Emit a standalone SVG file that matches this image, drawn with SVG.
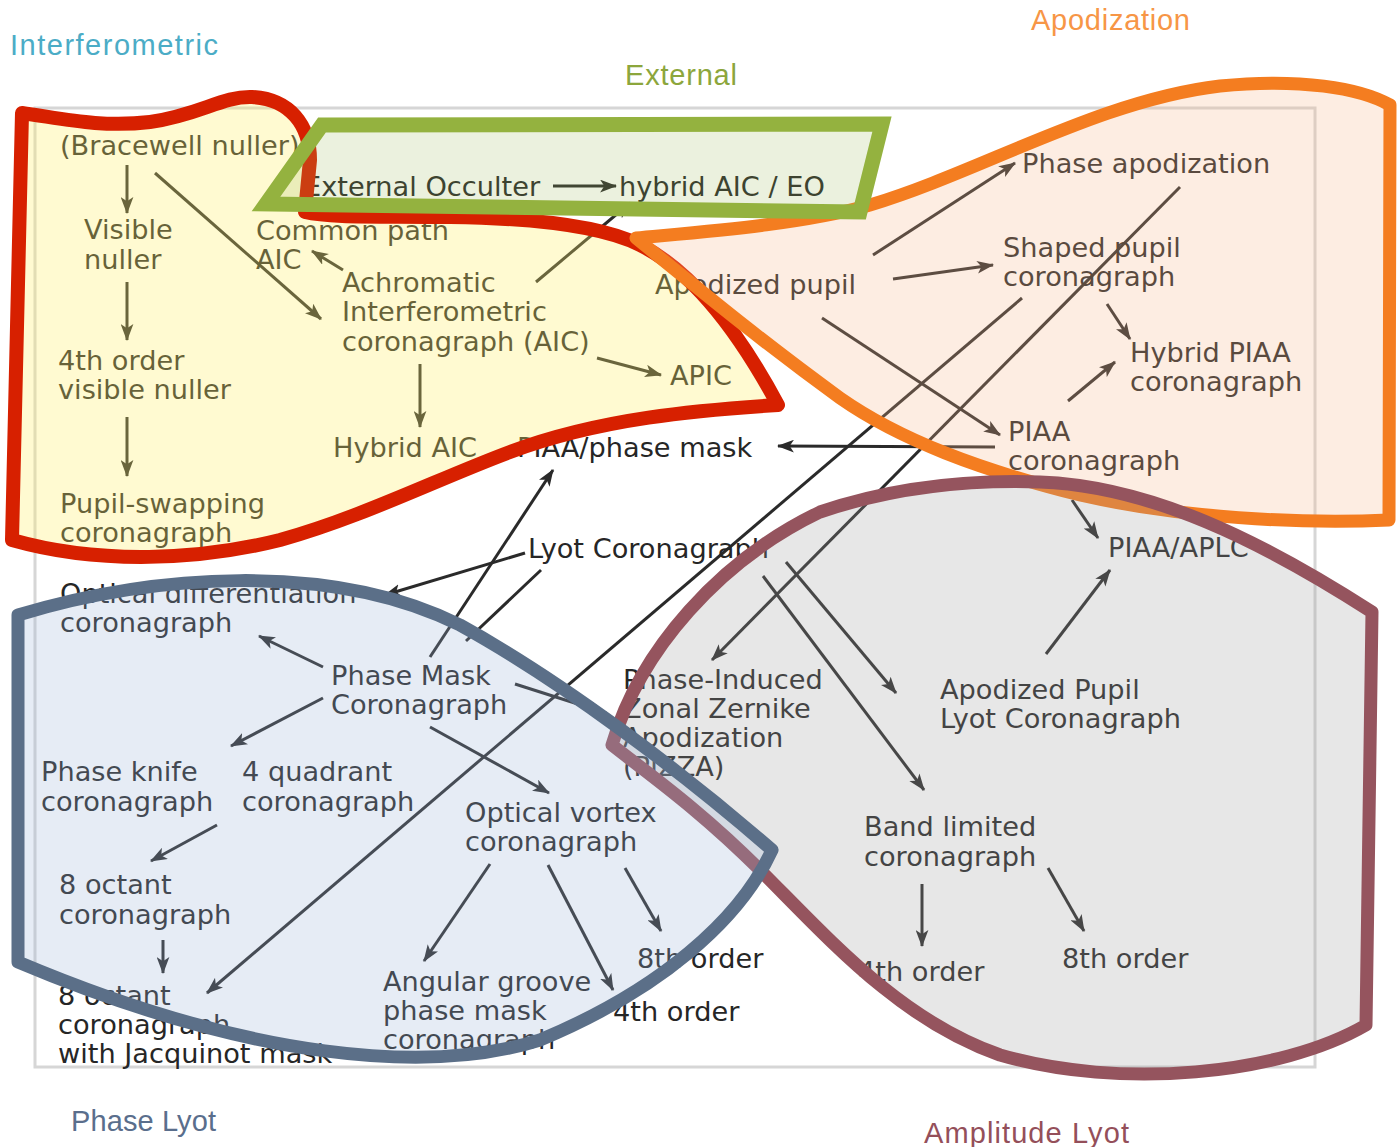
<svg xmlns="http://www.w3.org/2000/svg" width="1400" height="1147" viewBox="0 0 1400 1147">
<defs>
<marker id="ah" viewBox="0 0 16 12" refX="15" refY="6" markerWidth="17" markerHeight="13" markerUnits="userSpaceOnUse" orient="auto">
<path d="M0,0 L16,6 L0,12 L4,6 Z" fill="#2a2a2a"/>
</marker>
<style>
.t{font-family:"DejaVu Sans",Verdana,sans-serif;font-size:27.2px;fill:#262626}
.c{fill:none;stroke:#2a2a2a;stroke-width:3}
.a{marker-end:url(#ah)}
.title{font-family:"Liberation Sans",Arial,sans-serif;font-size:29px}
.region{stroke-linejoin:round}
</style>
</defs>
<rect x="0" y="0" width="1400" height="1147" fill="#ffffff"/>
<g id="frame">
<rect x="35" y="108" width="1280" height="959" fill="#ffffff" stroke="#d6d6d6" stroke-width="3"/>
</g>
<g id="connectors">
<path class="c a" d="M127,165 L127,213"/>
<path class="c a" d="M155,173 L321,319"/>
<path class="c a" d="M127,282 L127,340"/>
<path class="c a" d="M127,417 L127,476"/>
<path class="c a" d="M343,270 L312,251"/>
<path class="c a" d="M420,364 L420,427"/>
<path class="c a" d="M597,358 L661,375"/>
<path class="c a" d="M536,282 L630,203"/>
<path class="c a" d="M553,186 L616,186"/>
<path class="c a" d="M873,255 L1015,163"/>
<path class="c a" d="M893,279 L993,265"/>
<path class="c a" d="M822,318 L1000,435"/>
<path class="c a" d="M1107,304 L1130,339"/>
<path class="c a" d="M1068,401 L1115,362"/>
<path class="c a" d="M995,447 L778,446"/>
<path class="c a" d="M1022,298 L207,993"/>
<path class="c a" d="M1180,187 L712,660"/>
<path class="c a" d="M525,553 L385,595"/>
<path class="c a" d="M430,657 L553,470"/>
<path class="c" d="M541,570 L466,641"/>
<path class="c a" d="M763,576 L924,790"/>
<path class="c a" d="M786,562 L896,693"/>
<path class="c a" d="M1046,654 L1110,570"/>
<path class="c a" d="M1072,500 L1098,538"/>
<path class="c a" d="M323,667 L259,636"/>
<path class="c a" d="M323,698 L231,746"/>
<path class="c a" d="M430,727 L549,793"/>
<path class="c a" d="M515,684 L606,713"/>
<path class="c a" d="M217,825 L151,861"/>
<path class="c a" d="M163,940 L163,973"/>
<path class="c a" d="M490,864 L424,961"/>
<path class="c a" d="M548,865 L613,990"/>
<path class="c a" d="M625,868 L661,931"/>
<path class="c a" d="M922,884 L922,946"/>
<path class="c a" d="M1048,868 L1084,931"/>
</g>
<g id="n-bracewell"><text class="t" x="60" y="155">(Bracewell nuller)</text></g>
<g id="n-visible"><text class="t"><tspan x="84" y="239">Visible</tspan><tspan x="84" y="269">nuller</tspan></text></g>
<g id="n-cpaic"><text class="t"><tspan x="256" y="240">Common path</tspan><tspan x="256" y="269">AIC</tspan></text></g>
<g id="n-aic"><text class="t"><tspan x="342" y="292">Achromatic</tspan><tspan x="342" y="321">Interferometric</tspan><tspan x="342" y="351">coronagraph (AIC)</tspan></text></g>
<g id="n-4vn"><text class="t"><tspan x="58" y="370">4th order</tspan><tspan x="58" y="399">visible nuller</tspan></text></g>
<g id="n-apic"><text class="t" x="670" y="385">APIC</text></g>
<g id="n-haic"><text class="t" x="333" y="457">Hybrid AIC</text></g>
<g id="n-piaapm"><text class="t" x="517" y="457">PIAA/phase mask</text></g>
<g id="n-psc"><text class="t"><tspan x="60" y="513">Pupil-swapping</tspan><tspan x="60" y="542">coronagraph</tspan></text></g>
<g id="n-eo"><text class="t" x="304" y="196">External Occulter</text></g>
<g id="n-haeo"><text class="t" x="619" y="196">hybrid AIC / EO</text></g>
<g id="n-phapo"><text class="t" x="1022" y="173">Phase apodization</text></g>
<g id="n-apupil"><text class="t" x="655" y="294">Apodized pupil</text></g>
<g id="n-spc"><text class="t"><tspan x="1003" y="257">Shaped pupil</tspan><tspan x="1003" y="286">coronagraph</tspan></text></g>
<g id="n-hpiaa"><text class="t"><tspan x="1130" y="362">Hybrid PIAA</tspan><tspan x="1130" y="391">coronagraph</tspan></text></g>
<g id="n-piaa"><text class="t"><tspan x="1008" y="441">PIAA</tspan><tspan x="1008" y="470">coronagraph</tspan></text></g>
<g id="n-piaaaplc"><text class="t" x="1108" y="557">PIAA/APLC</text></g>
<g id="n-lyot"><text class="t" x="528" y="558">Lyot Coronagraph</text></g>
<g id="n-odc"><text class="t"><tspan x="60" y="603">Optical differentiation</tspan><tspan x="60" y="632">coronagraph</tspan></text></g>
<g id="n-pmc"><text class="t"><tspan x="331" y="685">Phase Mask</tspan><tspan x="331" y="714">Coronagraph</tspan></text></g>
<g id="n-pizza"><text class="t"><tspan x="623" y="689">Phase-Induced</tspan><tspan x="623" y="718">Zonal Zernike</tspan><tspan x="623" y="747">Apodization</tspan><tspan x="623" y="776">(PIZZA)</tspan></text></g>
<g id="n-aplc"><text class="t"><tspan x="940" y="699">Apodized Pupil</tspan><tspan x="940" y="728">Lyot Coronagraph</tspan></text></g>
<g id="n-pk"><text class="t"><tspan x="41" y="781">Phase knife</tspan><tspan x="41" y="811">coronagraph</tspan></text></g>
<g id="n-4q"><text class="t"><tspan x="242" y="781">4 quadrant</tspan><tspan x="242" y="811">coronagraph</tspan></text></g>
<g id="n-ovc"><text class="t"><tspan x="465" y="822">Optical vortex</tspan><tspan x="465" y="851">coronagraph</tspan></text></g>
<g id="n-blc"><text class="t"><tspan x="864" y="836">Band limited</tspan><tspan x="864" y="866">coronagraph</tspan></text></g>
<g id="n-8oc"><text class="t"><tspan x="59" y="894">8 octant</tspan><tspan x="59" y="924">coronagraph</tspan></text></g>
<g id="n-ov8"><text class="t" x="637" y="968">8th order</text></g>
<g id="n-bl4"><text class="t" x="858" y="981">4th order</text></g>
<g id="n-bl8"><text class="t" x="1062" y="968">8th order</text></g>
<g id="n-8ocj"><text class="t"><tspan x="58" y="1005">8 octant</tspan><tspan x="58" y="1034">coronagraph</tspan><tspan x="58" y="1063">with Jacquinot mask</tspan></text></g>
<g id="n-agpm"><text class="t"><tspan x="383" y="991">Angular groove</tspan><tspan x="383" y="1020">phase mask</tspan><tspan x="383" y="1049">coronagraph</tspan></text></g>
<g id="n-ov4"><text class="t" x="613" y="1021">4th order</text></g>
<g id="region-interferometric" class="region">
<path d="M22,113 C60,118 100,128 150,122 C200,115 222,96 252,97 C290,99 310,125 310,160 L305,212 C330,218 380,216 450,217 C530,218 600,225 640,245 C690,270 735,325 778,405 C700,410 600,418 510,452 C440,478 360,518 280,540 C200,560 100,565 12,540 Z" fill="#FFF066" fill-opacity="0.3" stroke="#D72000" stroke-width="14"/>
</g>
<g id="region-apodization" class="region">
<path d="M636,238 C700,232 800,225 870,205 C980,172 1100,100 1220,86 C1300,78 1360,88 1390,105 L1389,520 C1300,524 1180,518 1080,495 C980,470 900,440 840,398 C760,340 700,290 636,238 Z" fill="#F9B88A" fill-opacity="0.25" stroke="#F47D20" stroke-width="13"/>
</g>
<g id="region-external" class="region">
<path d="M322,125 L882,124 L860,212 L266,204 Z" fill="#9BBB59" fill-opacity="0.2" stroke="#94B23F" stroke-width="15" stroke-linejoin="miter"/>
</g>
<g id="region-amplitude-lyot" class="region">
<path d="M612,745 C640,650 720,560 820,512 C900,485 980,480 1040,482 C1150,486 1260,540 1372,612 L1366,1025 C1280,1075 1120,1090 1000,1055 C900,1020 830,940 760,870 C700,810 650,775 612,745 Z" fill="#A0A0A0" fill-opacity="0.25" stroke="#95545E" stroke-width="13"/>
</g>
<g id="region-phase-lyot" class="region">
<path d="M18,615 C150,575 330,560 460,625 C560,680 680,770 772,850 C740,920 660,990 540,1040 C430,1075 250,1060 18,962 Z" fill="#9DB5D8" fill-opacity="0.25" stroke="#5B6F88" stroke-width="13"/>
</g>
<g id="titles">
<text class="title" x="10" y="55" textLength="208" fill="#4BACC6">Interferometric</text>
<text class="title" x="625" y="85" textLength="112" fill="#8CA63C">External</text>
<text class="title" x="1031" y="30" textLength="159" fill="#F79646">Apodization</text>
<text class="title" x="71" y="1131" textLength="145" fill="#5A6E8C">Phase Lyot</text>
<text class="title" x="924" y="1143" textLength="205" fill="#944F5A">Amplitude Lyot</text>
</g>
</svg>
